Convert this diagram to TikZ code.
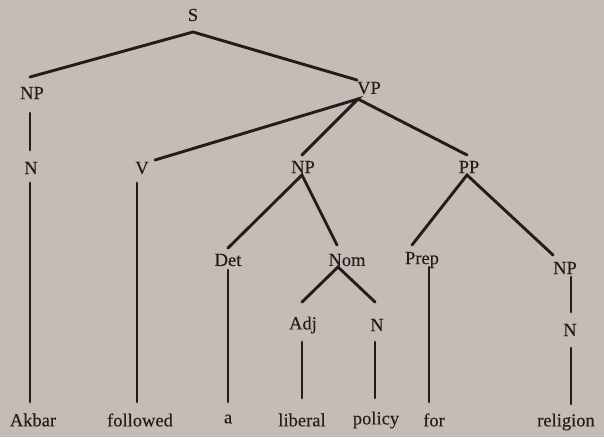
\documentclass[tikz,border=0pt]{standalone}
\usepackage{fontspec}
\setmainfont{Liberation Serif}[FakeBold=0.25]
\usetikzlibrary{calc}
\definecolor{paper}{RGB}{198,188,182}
\definecolor{ink}{RGB}{34,28,28}
\begin{document}
\begin{tikzpicture}[x=1pt,y=-1pt,
  lbl/.style={inner sep=0pt,text=ink,font=\fontsize{18.5}{20}\selectfont},
  edge/.style={draw=ink,line width=2.9pt,line cap=round}]
\fill[paper] (0,0) rectangle (604,437);
\useasboundingbox (0,0) rectangle (604,437);
% labels
\node[lbl] (S)    at (193,15)  {S};
\node[lbl] (NPa)  at (32,93)   {NP};
\node[lbl] (VP)   at (369,88)  {VP};
\node[lbl] (Na)   at (31,168)  {N};
\node[lbl] (V)    at (142,168) {V};
\node[lbl] (NPb)  at (303,167) {NP};
\node[lbl] (PP)   at (469,167) {PP};
\node[lbl] (Det)  at (228,260) {Det};
\node[lbl] (Nom)  at (347,260) {Nom};
\node[lbl] (Prep) at (422,260) {Prep};
\node[lbl] (NPc)  at (565,268) {NP};
\node[lbl] (Adj)  at (303,325) {Adj};
\node[lbl] (Nb)   at (377,325) {N};
\node[lbl] (Nc)   at (570,330) {N};
% words
\node[lbl] (w1) at (33,420)  {Akbar};
\node[lbl] (w2) at (140,420) {followed};
\node[lbl] (w3) at (228,419) {a};
\node[lbl] (w4) at (302,420) {liberal};
\node[lbl] (w5) at (376,420) {policy};
\node[lbl] (w6) at (434,420) {for};
\node[lbl] (w7) at (566,422) {religion};
% attachment points
\coordinate (S-b)    at ($(S)+(0,17)$);
\coordinate (NPa-t)  at ($(NPa)+(-2,-16)$);
\coordinate (NPa-b)  at ($(NPa)+(-2,20)$);
\coordinate (VP-t)   at ($(VP)+(-12,-8)$);
\coordinate (VP-b)   at ($(VP)+(-11,11)$);
\coordinate (Na-t)   at ($(Na)+(-1,-18)$);
\coordinate (Na-b)   at ($(Na)+(-1,15)$);
\coordinate (V-t)    at ($(V)+(13,-8)$);
\coordinate (V-b)    at ($(V)+(-5,15)$);
\coordinate (NPb-t)  at ($(NPb)+(-1,-12)$);
\coordinate (NPb-b)  at ($(NPb)+(-1,8)$);
\coordinate (PP-t)   at ($(PP)+(-2,-12)$);
\coordinate (PP-b)   at ($(PP)+(-2,8)$);
\coordinate (Det-t)  at ($(Det)+(0,-12)$);
\coordinate (Det-b)  at ($(Det)+(0,10)$);
\coordinate (Nom-t)  at ($(Nom)+(-10,-15)$);
\coordinate (Nom-b)  at ($(Nom)+(-9,7)$);
\coordinate (Prep-t) at ($(Prep)+(-10,-15)$);
\coordinate (Prep-b) at ($(Prep)+(7,7)$);
\coordinate (NPc-t)  at ($(NPc)+(-12,-13)$);
\coordinate (NPc-b)  at ($(NPc)+(6,9)$);
\coordinate (Adj-t)  at ($(Adj)+(-1,-23)$);
\coordinate (Adj-b)  at ($(Adj)+(-1,17)$);
\coordinate (Nb-t)   at ($(Nb)+(-2,-23)$);
\coordinate (Nb-b)   at ($(Nb)+(-2,17)$);
\coordinate (Nc-t)   at ($(Nc)+(1,-18)$);
\coordinate (Nc-b)   at ($(Nc)+(1,18)$);
\coordinate (w1-t) at (30,402);
\coordinate (w2-t) at (137,402);
\coordinate (w3-t) at (228,402);
\coordinate (w4-t) at (302,398);
\coordinate (w5-t) at (375,398);
\coordinate (w6-t) at (429,402);
\coordinate (w7-t) at (571,404);
% connectors
\draw[edge] (NPa-t) -- (S-b) -- (VP-t);
\draw[edge] (NPa-b) -- (Na-t);
\draw[edge] (V-t) -- (VP-b) -- (NPb-t);
\draw[edge] (VP-b) -- (PP-t);
\draw[edge] (Det-t) -- (NPb-b) -- (Nom-t);
\draw[edge] (Prep-t) -- (PP-b) -- (NPc-t);
\draw[edge] (Adj-t) -- (Nom-b) -- (Nb-t);
\draw[edge] (NPc-b) -- (Nc-t);
\draw[edge] (Na-b) -- (w1-t);
\draw[edge] (V-b) -- (w2-t);
\draw[edge] (Det-b) -- (w3-t);
\draw[edge] (Adj-b) -- (w4-t);
\draw[edge] (Nb-b) -- (w5-t);
\draw[edge] (Prep-b) -- (w6-t);
\draw[edge] (Nc-b) -- (w7-t);
\end{tikzpicture}
\end{document}
